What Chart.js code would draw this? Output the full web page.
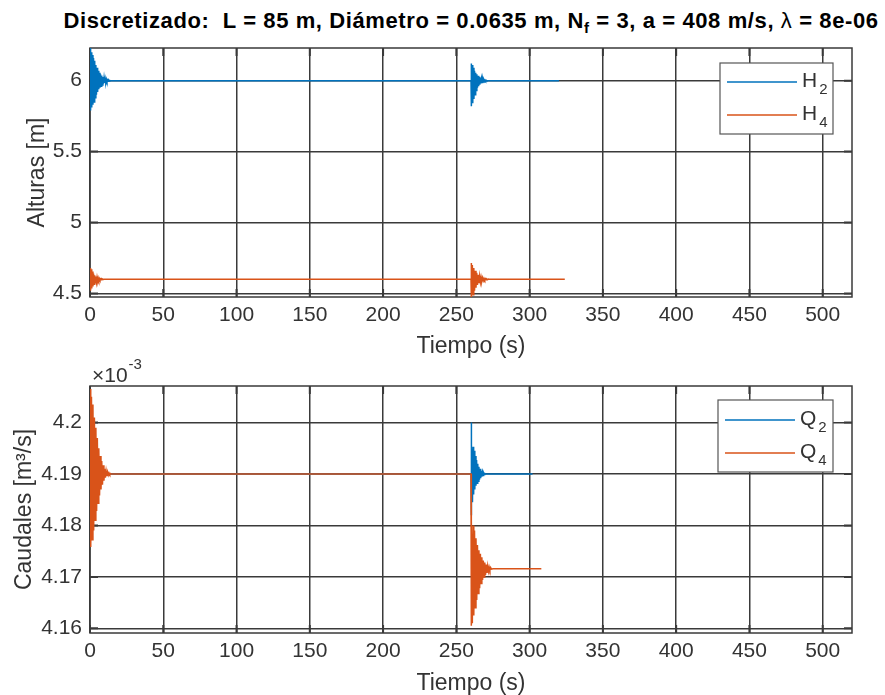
<!DOCTYPE html>
<html>
<head>
<meta charset="utf-8">
<script src="https://cdn.jsdelivr.net/npm/chart.js@4.4.1/dist/chart.umd.min.js"></script>
<style>
  body { margin:0; background:#fff; width:885px; height:695px; position:relative; overflow:hidden; }
  canvas { position:absolute; left:0; }
  #plotTitle { position:absolute; top:10px; left:471px; transform:translateX(-50%); white-space:nowrap;
    font:bold 22px "Liberation Sans", sans-serif; letter-spacing:0.6px; line-height:22px; color:#000; }
  #plotTitle sub { font-size:15px; vertical-align:-5px; line-height:0; }
</style>
</head>
<body>
<div id="plotTitle">Discretizado:&nbsp; L = 85 m, Diámetro = 0.0635 m, N<sub>f</sub> = 3, a = 408 m/s, <span style="font-weight:normal">λ</span> = 8e-06</div>
<canvas id="alturasChart" width="885" height="360" style="top:0"></canvas>
<canvas id="caudalesChart" width="885" height="347" style="top:350px"></canvas>
<script>
// ---- datos: tiempo (s) y alturas (m) ----
var h2Time = [0,0.4,0.8,1.2,1.6,2,2.4,2.8,3.2,3.6,4,4.4,4.8,5.2,5.6,6,6.4,6.8,7.2,7.6,8,8.4,8.8,9.2,9.6,10,10.4,10.8,11.2,11.6,12,12.4,12.8,13.2,13.6,14,
  260,260.1,260.4,260.8,261.2,261.6,262,262.4,262.8,263.2,263.6,264,264.4,264.8,265.2,265.6,266,266.4,266.8,267.2,267.6,268,268.4,268.8,269.2,269.6,270,270.4,270.8,271.2,320]
var h2Value = [6.25,5.79,6.20,5.81,6.18,5.83,6.16,5.85,6.14,5.88,6.11,5.90,6.09,5.92,6.07,5.94,6.055,5.95,6.045,5.96,6.035,5.97,6.026,5.978,6.019,5.984,6.013,5.989,6.009,5.993,6.005,5.996,6.003,5.998,6.001,6.0,
  6.0,6.12,5.82,6.11,5.84,6.09,5.87,6.07,5.90,6.055,5.93,6.045,5.95,6.035,5.96,6.027,5.972,6.02,5.98,6.014,5.986,6.01,5.991,6.006,5.995,6.004,5.997,6.002,5.999,6.0,6.0]

var h4Time = [0,0.4,0.8,1.2,1.6,2,2.4,2.8,3.2,3.6,4,4.4,4.8,5.2,5.6,6,6.4,6.8,7.2,7.6,8,8.4,8.8,9.2,9.6,
  260,260.1,260.4,260.9,261.4,261.9,262.4,262.9,263.4,263.9,264.4,264.9,265.4,265.9,266.4,266.9,267.4,267.9,268.4,268.9,269.4,269.9,270.4,270.9,271.4,271.9,272.4,324]
var h4Value = [4.68,4.52,4.67,4.535,4.655,4.55,4.64,4.565,4.628,4.575,4.62,4.583,4.613,4.588,4.608,4.592,4.605,4.595,4.603,4.597,4.602,4.598,4.601,4.599,4.6,
  4.6,4.715,4.47,4.70,4.49,4.68,4.52,4.66,4.54,4.645,4.56,4.632,4.572,4.622,4.58,4.615,4.586,4.61,4.59,4.606,4.594,4.604,4.597,4.602,4.598,4.601,4.6,4.6]

// ---- datos: caudales (x 1e-3 m3/s) ----
var q2Time = [0,260,260.05,260.2,260.6,261,261.4,261.8,262.2,262.6,263,263.4,263.8,264.2,264.6,265,265.4,265.8,266.2,266.6,267,267.4,267.8,268.2,268.6,269,269.4,270,302]
var q2Value = [4.19,4.19,4.2,4.182,4.1958,4.1845,4.1953,4.186,4.1945,4.187,4.1935,4.1877,4.1927,4.1882,4.192,4.1886,4.1914,4.1889,4.191,4.1892,4.1906,4.1895,4.1903,4.1897,4.1902,4.1899,4.1901,4.19,4.19]

var q4Time = [0,0.5,1,1.5,2,2.5,3,3.5,4,4.5,5,5.5,6,6.5,7,7.5,8,8.5,9,9.5,10,10.5,11,11.5,12,12.5,13,13.5,14,14.5,
  260,260.05,260.4,260.9,261.4,261.9,262.4,262.9,263.4,263.9,264.4,264.9,265.4,265.9,266.4,266.9,267.4,267.9,268.4,268.9,269.4,269.9,270.4,270.9,271.4,271.9,272.4,272.9,273.4,273.9,275,308]
var q4Value = [4.2065,4.1758,4.205,4.1772,4.2035,4.179,4.201,4.181,4.199,4.1828,4.197,4.1843,4.195,4.1858,4.1935,4.187,4.1925,4.1879,4.1917,4.1887,4.191,4.1893,4.1906,4.1896,4.1904,4.1898,4.1902,4.1899,4.1901,4.19,
  4.19,4.1605,4.181,4.161,4.18,4.1625,4.179,4.164,4.1775,4.1655,4.1762,4.1668,4.1752,4.1678,4.1745,4.1687,4.1738,4.1694,4.1732,4.17,4.1728,4.1704,4.1724,4.1708,4.1721,4.1711,4.1719,4.1713,4.1718,4.1715,4.1716,4.1716]

var timeTicks = [0,50,100,150,200,250,300,350,400,450,500]
var alturaTicks = [4.5,5,5.5,6]
var caudalTicks = [4.16,4.17,4.18,4.19,4.2]

var BLUE = '#0072BD'
var ORANGE = '#D95319'
var LINE_COLOR = '#3a3a3a'
var TEXT_COLOR = '#333333'
var FONT = 'Liberation Sans'

function toPoints(t, v){
    var pts = []
    for(var i=0; i<t.length; i++) pts.push({x:t[i], y:v[i]})
    return pts
}

function serie(label, t, v, color, order){
    return {label:label, data:toPoints(t,v), borderColor:color, backgroundColor:color,
        borderWidth:1.5, pointRadius:0, tension:0, fill:false, order:order}
}

// caja, marcas interiores, exponente y leyenda al estilo matlab
var matlabAxes = {
    id:'matlabAxes',
    beforeDatasetsDraw(chart){
        var ctx = chart.ctx, a = chart.chartArea, sx = chart.scales.x, sy = chart.scales.y
        ctx.save()
        ctx.strokeStyle = LINE_COLOR
        ctx.lineWidth = 1.5
        ctx.strokeRect(a.left, a.top, a.right-a.left, a.bottom-a.top)
        ctx.lineWidth = 2
        ctx.beginPath()
        sx.ticks.forEach(function(t){
            var px = sx.getPixelForValue(t.value)
            ctx.moveTo(px, a.bottom); ctx.lineTo(px, a.bottom-8)
            ctx.moveTo(px, a.top); ctx.lineTo(px, a.top+8)
        })
        sy.ticks.forEach(function(t){
            var py = sy.getPixelForValue(t.value)
            ctx.moveTo(a.left, py); ctx.lineTo(a.left+8, py)
            ctx.moveTo(a.right, py); ctx.lineTo(a.right-8, py)
        })
        ctx.stroke()
        ctx.restore()
    },
    afterDraw(chart, args, opts){
        var ctx = chart.ctx, a = chart.chartArea
        ctx.save()
        if(opts.exponent){
            ctx.fillStyle = TEXT_COLOR
            ctx.textBaseline = 'alphabetic'
            ctx.font = '21px ' + FONT
            ctx.fillText('×10', a.left+2, a.top-4)
            var w = ctx.measureText('×10').width
            ctx.font = '15px ' + FONT
            ctx.fillText(opts.exponent, a.left+3+w, a.top-17)
        }
        var lg = opts.legend
        if(lg){
            var bx = a.right - lg.right - lg.width, by = a.top + lg.top
            ctx.fillStyle = '#fff'
            ctx.fillRect(bx, by, lg.width, lg.height)
            ctx.strokeStyle = '#555'
            ctx.lineWidth = 1.2
            ctx.strokeRect(bx, by, lg.width, lg.height)
            lg.items.forEach(function(it, i){
                var ry = by + lg.rows[i]
                ctx.strokeStyle = it.color
                ctx.lineWidth = 1.5
                ctx.beginPath()
                ctx.moveTo(bx+7, ry); ctx.lineTo(bx+77, ry)
                ctx.stroke()
                ctx.fillStyle = TEXT_COLOR
                ctx.font = '21px ' + FONT
                ctx.fillText(it.main, bx+82, ry+5)
                var mw = ctx.measureText(it.main).width
                ctx.font = '15px ' + FONT
                ctx.fillText(it.sub, bx+84+mw, ry+12)
            })
        }
        ctx.restore()
    }
}

function axisOptions(cfg){
    return {
        x:{
            type:'linear', min:0, max:520,
            afterBuildTicks:function(s){ s.ticks = timeTicks.map(function(v){ return {value:v} }) },
            afterFit:function(s){ s.height = cfg.xHeight },
            ticks:{font:{family:FONT, size:21}, color:TEXT_COLOR, padding:6, maxRotation:0, autoSkip:false},
            grid:{color:LINE_COLOR, lineWidth:1.5, drawTicks:false},
            border:{display:false},
            title:{display:true, text:'Tiempo (s)', font:{family:FONT, size:23}, color:TEXT_COLOR, padding:{top:0, bottom:cfg.xTitlePad}}
        },
        y:{
            type:'linear', min:cfg.yMin, max:cfg.yMax,
            afterBuildTicks:function(s){ s.ticks = cfg.yTicks.map(function(v){ return {value:v} }) },
            afterFit:function(s){ s.width = 90 },
            ticks:{font:{family:FONT, size:21}, color:TEXT_COLOR, padding:8,
                callback:function(v){ return String(+v.toFixed(3)) }},
            grid:{color:LINE_COLOR, lineWidth:1.5, drawTicks:false},
            border:{display:false},
            title:{display:true, text:cfg.yTitle, font:{family:FONT, size:23}, color:TEXT_COLOR, padding:{top:cfg.yTitlePad, bottom:0}}
        }
    }
}

new Chart(document.getElementById('alturasChart'), {
    type:'line',
    data:{datasets:[
        serie('H2', h2Time, h2Value, BLUE, 1),
        serie('H4', h4Time, h4Value, ORANGE, 0)
    ]},
    options:{
        responsive:false, animation:false,
        layout:{padding:{top:48, right:33, left:0, bottom:0}},
        scales:axisOptions({xHeight:63, xTitlePad:0, yMin:4.475, yMax:6.23, yTicks:alturaTicks, yTitle:'Alturas [m]', yTitlePad:24}),
        plugins:{
            legend:{display:false}, tooltip:{enabled:false},
            matlabAxes:{legend:{right:19, top:15, width:113, height:71, rows:[19,52],
                items:[{main:'H', sub:'2', color:BLUE},{main:'H', sub:'4', color:ORANGE}]}}
        }
    },
    plugins:[matlabAxes]
})

new Chart(document.getElementById('caudalesChart'), {
    type:'line',
    data:{datasets:[
        serie('Q2', q2Time, q2Value, BLUE, 1),
        serie('Q4', q4Time, q4Value, ORANGE, 0)
    ]},
    options:{
        responsive:false, animation:false,
        layout:{padding:{top:36, right:33, left:0, bottom:0}},
        scales:axisOptions({xHeight:64, xTitlePad:0, yMin:4.1591, yMax:4.2071, yTicks:caudalTicks, yTitle:'Caudales [m³/s]', yTitlePad:11}),
        plugins:{
            legend:{display:false}, tooltip:{enabled:false},
            matlabAxes:{exponent:'-3', legend:{right:19, top:14, width:115, height:72, rows:[20,53],
                items:[{main:'Q', sub:'2', color:BLUE},{main:'Q', sub:'4', color:ORANGE}]}}
        }
    },
    plugins:[matlabAxes]
})
</script>
</body>
</html>
